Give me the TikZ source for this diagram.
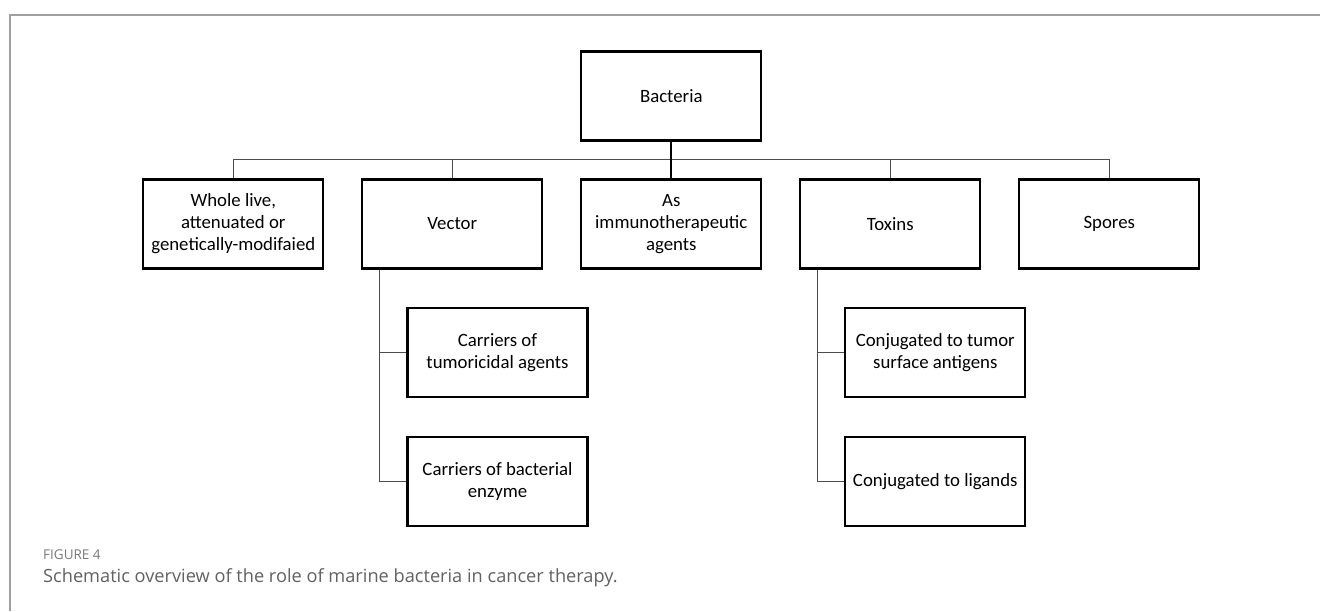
\documentclass[tikz,border=0pt]{standalone}
\usepackage{fontspec}
\setmainfont{Carlito}
\newfontfamily\capfont{Open Sans}
\usepackage{tikz}
\usetikzlibrary{positioning}
\definecolor{framegray}{HTML}{A0A0A0}
\definecolor{capgray}{HTML}{616161}
\tikzset{
        x=1pt, y=-1pt, % pixel-like units, y grows downwards
        box/.style={draw, line width=2.2pt, minimum width=180, minimum height=89,
                    inner sep=0pt, align=center, font=\fontsize{18.8}{22}\selectfont}, % every box of the tree
        conn/.style={line width=1.1pt, black!70}, % thin connectors
        trunk/.style={line width=2pt, black}, % the central stem
}

\begin{document}
\begin{tikzpicture}
\useasboundingbox (0,0) rectangle (1320,611);
% frame of the figure
\draw[framegray, line width=1.5pt] (10,611) -- (10,15) -- (1320,15);

% top of the tree
\node[box] (bact) at (671.3,96) {Bacteria};

% first level
\node[box] (whole) at (233.3,224) {Whole live,\\attenuated or\\genetically-modifaied};
\node[box] (vector) at (452.3,224) {Vector};
\node[box] (immu) at (671.3,224) {As\\immunotherapeutic\\agents};
\node[box] (toxins) at (890.3,224) {Toxins};
\node[box] (spores) at (1109.3,224) {Spores};

% second level
\node[box] (vcar1) at (497.5,352.3) {Carriers of\\tumoricidal agents};
\node[box] (vcar2) at (497.5,481.2) {Carriers of bacterial\\enzyme};
\node[box] (tconj1) at (935.3,352.3) {Conjugated to tumor\\surface antigens};
\node[box] (tconj2) at (935.3,481.2) {Conjugated to ligands};

% connectors
\draw[conn] (whole.north) -- ++(0,-19) -| (spores.north);
\draw[conn] (vector.north) -- ++(0,-19);
\draw[conn] (toxins.north) -- ++(0,-19);
\draw[trunk] (bact.south) -- (immu.north);

\draw[conn] ([xshift=18pt]vector.south west) |- (vcar1.west);
\draw[conn] ([xshift=18pt]vector.south west) |- (vcar2.west);
\draw[conn] ([xshift=18pt]toxins.south west) |- (tconj1.west);
\draw[conn] ([xshift=18pt]toxins.south west) |- (tconj2.west);

% caption
\node[anchor=base west, inner sep=0pt, capgray!85, font=\capfont\fontsize{13.5}{15}\selectfont] (fig) at (43,559) {FIGURE 4};
\node[anchor=base west, inner sep=0pt, capgray, font=\capfont\fontsize{18.2}{22}\selectfont] (cap) at (43,582) {Schematic overview of the role of marine bacteria in cancer therapy.};

\end{tikzpicture}
\end{document}
